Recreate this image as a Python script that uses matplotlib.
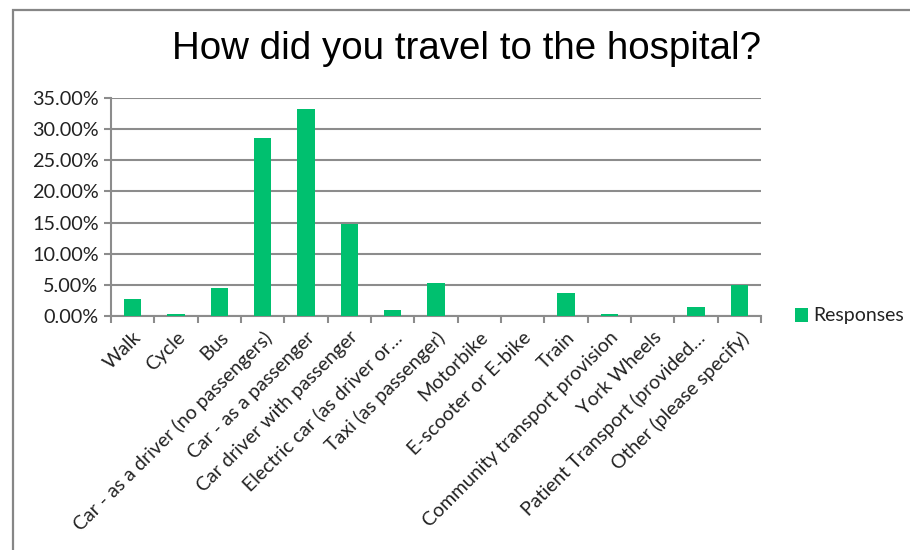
import matplotlib
matplotlib.use("Agg")
import matplotlib.pyplot as plt
from matplotlib.patches import Rectangle
from matplotlib.ticker import FuncFormatter, FixedLocator
import numpy as np

categories = [
    "Walk", "Cycle", "Bus", "Car - as a driver (no passengers)",
    "Car - as a passenger", "Car driver with passenger",
    "Electric car (as driver or…", "Taxi (as passenger)", "Motorbike",
    "E-scooter or E-bike", "Train", "Community transport provision",
    "York Wheels", "Patient Transport (provided…", "Other (please specify)",
]
responses = [2.8, 0.32, 4.47, 28.5, 33.2, 14.8, 0.97, 5.33, 0.0, 0.0,
             3.66, 0.32, 0.0, 1.5, 5.0]
y_ticks = [0, 5, 10, 15, 20, 25, 30, 35]
title = "How did you travel to the hospital?"
series_name = "Responses"

bar_color = "#00C06F"
grid_color = "#8C8C8C"
label_font = "Lato"
text_color = "#222222"

fig = plt.figure(figsize=(9.1, 5.5), dpi=100)
ax = fig.add_axes([111 / 910, 1 - 316 / 550, 650 / 910, 218 / 550])

x = np.arange(len(categories))
ax.bar(x, responses, width=0.4, color=bar_color, label=series_name, zorder=3)

ax.set_xlim(-0.5, len(categories) - 0.5)
ax.set_ylim(0, 35)
ax.set_yticks(y_ticks)
ax.yaxis.set_major_formatter(FuncFormatter(lambda v, p: f"{v:.2f}%"))
ax.grid(axis="y", color=grid_color, linewidth=1.5, zorder=0)
ax.set_axisbelow(True)

for s in ["top", "right"]:
    ax.spines[s].set_visible(False)
for s in ["left", "bottom"]:
    ax.spines[s].set_color(grid_color)
    ax.spines[s].set_linewidth(1.5)

ax.set_xticks(x)
ax.set_xticklabels(categories, rotation=45, ha="right", rotation_mode="anchor",
                   fontsize=14, family=label_font, color=text_color)
ax.xaxis.set_minor_locator(FixedLocator(np.arange(-0.5, len(categories), 1.0)))
ax.tick_params(axis="x", which="major", length=0, pad=9)
ax.tick_params(axis="x", which="minor", length=5, color=grid_color, width=1.5)
ax.tick_params(axis="y", length=5, color=grid_color, width=1.5, pad=4)
for lab in ax.get_yticklabels():
    lab.set_family(label_font)
    lab.set_fontsize(14.3)
    lab.set_color(text_color)

leg = ax.legend(loc="center left", bbox_to_anchor=(1.04, 0.0), frameon=False,
                handlelength=0.7, handleheight=0.7, handletextpad=0.25,
                borderaxespad=0.0, prop={"family": label_font, "size": 14})
for t in leg.get_texts():
    t.set_color(text_color)

fig.text(467 / 910, 1 - 49 / 550, title, ha="center", va="center",
         fontsize=27.7, family="Liberation Sans", color="#000000")

fig.patches.append(Rectangle((13 / 910, -0.05), 1.2, 1 - 10 / 550 + 0.05,
                             transform=fig.transFigure, fill=False,
                             edgecolor="#868686", linewidth=1.6))

fig.savefig("out.png", dpi=100)
